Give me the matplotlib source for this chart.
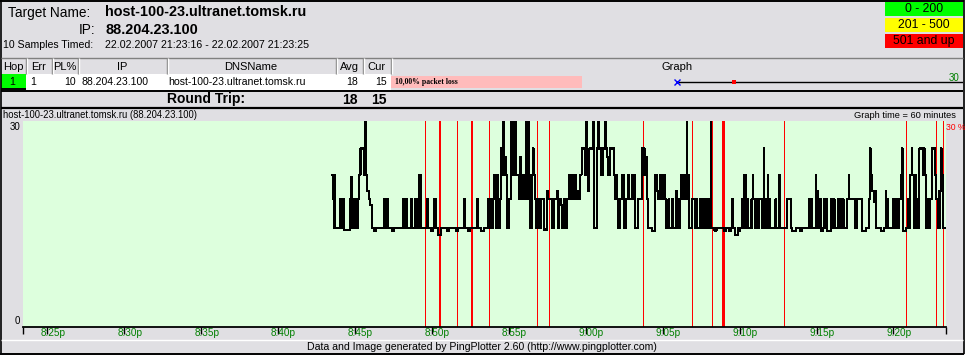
import numpy as np
import matplotlib
matplotlib.use("Agg")
import matplotlib.pyplot as plt
import matplotlib.dates as mdates
from matplotlib.patches import Rectangle
from matplotlib.transforms import ScaledTranslation

plt.rcParams["font.family"] = ["Liberation Sans", "DejaVu Sans"]

# ---- header / table data ----
target_name = "host-100-23.ultranet.tomsk.ru"
target_ip = "88.204.23.100"
samples_label = "10 Samples Timed:"
time_range = "22.02.2007 21:23:16 - 22.02.2007 21:23:25"

legend_labels = ["0 - 200", "201 - 500", "501 and up"]
legend_colors = ["#00ff00", "#ffff00", "#ff0000"]

columns = ["Hop", "Err", "PL%", "IP", "DNSName", "Avg", "Cur", "Graph"]
hop_row = ["1", "1", "10", "88.204.23.100", "host-100-23.ultranet.tomsk.ru", "18", "15"]
round_trip = ["18", "15"]
hop_pl = 10.0
hop_min = 15
hop_avg = 18
hop_max = 30
scale_max = 30

# ---- graph data ----
graph_start = np.datetime64("2007-02-22T20:23:25")
graph_end = np.datetime64("2007-02-22T21:23:25")
tick_times = ["20:25", "20:30", "20:35", "20:40", "20:45", "20:50",
              "20:55", "21:00", "21:05", "21:10", "21:15", "21:20"]

trace_start = np.datetime64("2007-02-22T20:43:30")
trace_end = np.datetime64("2007-02-22T21:23:25")
# (samples, latency ms), roughly 2.5 s per sample
trace_runs = [
    (1, 22.2), (2, 18.6), (1, 22.2), (8, 14.4), (1, 18.6), (2, 14.4), (1, 18.6), (2, 14.4), (1, 18.6), (9, 14.1),
    (2, 18.6), (1, 21.8), (3, 14.4), (1, 18.6), (2, 14.4), (1, 18.6), (2, 14.4), (2, 18.6), (2, 22.2), (5, 26.0),
    (2, 22.2), (1, 32), (2, 22.2), (3, 19.8), (2, 18.6), (3, 17.8), (3, 14.4), (3, 14.0), (12, 14.4), (1, 18.6),
    (2, 14.4), (1, 18.6), (2, 14.4), (1, 18.6), (6, 14.4), (3, 14.0), (14, 14.4), (1, 18.6), (2, 14.4), (3, 18.6),
    (6, 14.4), (1, 18.6), (5, 14.4), (3, 18.6), (3, 14.4), (1, 22.2), (2, 18.6), (1, 22.2), (9, 14.4), (1, 18.6),
    (5, 14.4), (3, 14.0), (2, 14.4), (3, 18.6), (2, 14.4), (5, 13.4), (9, 14.4), (3, 14.0), (12, 14.4), (3, 14.0),
    (9, 14.4), (1, 18.6), (5, 14.4), (3, 14.0), (11, 14.4), (1, 18.6), (5, 14.4), (5, 14.0), (6, 14.4),
    (1, 18.6), (3, 14.4), (1, 18.6), (2, 14.4), (2, 18.6), (3, 22.2), (2, 14.4), (1, 22.2), (3, 14.4), (2, 18.6),
    (1, 26.0), (2, 22.2), (1, 32), (2, 22.2), (1, 24.8), (2, 22.2), (3, 14.4), (3, 18.6), (1, 32), (2, 22.2),
    (1, 32), (2, 22.2), (1, 32), (5, 22.2), (2, 18.6), (1, 24.8), (2, 22.2), (3, 18.6), (1, 22.2), (3, 18.6),
    (1, 32), (2, 18.6), (1, 32), (2, 22.2), (2, 14.4), (2, 22.2), (1, 26.0), (2, 22.2), (2, 18.6), (2, 14.4),
    (3, 18.6), (2, 14.4), (5, 18.6), (5, 14.2), (1, 19.8), (6, 18.6), (3, 14.4), (5, 18.6), (1, 19.8), (2, 14.4),
    (3, 18.6), (2, 17.8), (3, 14.4), (3, 18.6), (2, 14.4), (2, 18.6), (1, 22.2), (2, 18.6), (1, 22.2), (3, 18.6),
    (1, 22.2), (2, 18.6), (1, 22.2), (3, 18.6), (1, 19.8), (3, 18.6), (2, 22.2), (5, 26.0), (2, 22.2), (1, 32),
    (2, 22.2), (2, 19.8), (6, 26.0), (1, 32), (5, 14.4), (2, 26.0), (1, 32), (3, 26.0), (3, 22.2), (3, 26.0),
    (1, 32), (2, 26.0), (2, 24.8), (3, 22.2), (6, 26.0), (2, 22.2), (2, 18.6), (1, 22.2), (2, 18.6), (2, 14.4),
    (3, 18.6), (1, 22.2), (2, 18.6), (1, 22.2), (3, 14.4), (3, 18.6), (1, 22.2), (5, 18.6), (1, 22.2), (2, 18.6),
    (1, 22.2), (5, 14.4), (6, 18.6),
    (1, 26.0), (2, 22.2), (1, 26.0), (3, 22.2), (1, 24.8), (2, 18.6), (5, 14.4), (5, 14.0), (3, 22.2), (2, 19.8),
    (3, 18.6), (1, 22.2), (3, 18.6), (3, 22.2), (3, 18.6), (3, 14.4), (1, 18.6), (5, 14.4), (1, 18.6), (5, 14.4),
    (1, 19.8), (2, 18.6), (3, 14.4), (2, 18.6), (3, 22.2), (2, 18.6), (1, 22.2), (2, 18.6), (1, 32), (2, 22.2),
    (5, 14.4), (5, 18.6), (2, 14.4), (1, 18.6), (5, 14.4), (1, 18.6), (2, 14.4), (1, 18.6), (2, 14.4), (1, 18.6),
    (2, 14.4), (1, 18.6), (3, 14.4), (1, 18.6), (2, 14.4), (1, 32), (5, 14.4), (3, 14.0), (6, 14.4),
    (6, 14.4), (2, 14.0), (6, 14.4), (2, 14.0), (2, 14.4), (1, 18.6), (3, 14.4), (5, 13.4), (1, 14.4), (2, 14.0), (3, 14.4),
    (1, 18.6), (2, 14.4), (1, 22.2), (2, 14.4), (1, 22.2), (3, 18.6), (5, 14.4), (2, 18.6), (1, 22.2), (2, 18.6),
    (3, 14.4), (1, 18.6), (2, 14.4), (5, 18.6), (3, 14.4), (1, 26.0), (2, 14.4), (1, 18.6), (2, 14.4), (1, 22.2),
    (2, 18.6), (9, 14.4), (1, 18.6), (5, 14.4), (1, 22.2), (11, 14.4),
    (6, 18.6), (2, 14.4), (6, 14.0), (6, 14.4), (3, 14.0), (11, 14.4), (1, 18.6), (2, 14.4), (1, 18.6), (6, 14.4),
    (1, 22.2), (2, 19.8), (2, 14.4), (3, 18.6), (3, 14.0), (2, 14.4), (1, 18.6), (3, 14.4), (1, 18.6), (5, 14.0),
    (1, 18.6), (2, 14.4), (3, 18.6), (5, 14.4), (1, 18.6), (3, 14.4), (1, 18.6), (3, 14.4), (1, 18.6), (5, 14.4),
    (3, 18.6), (1, 22.2), (8, 18.6), (3, 14.4), (9, 18.6), (5, 14.0), (5, 14.4), (2, 18.6), (1, 26.0), (2, 22.2),
    (3, 19.8), (2, 18.2), (1, 19.8), (8, 14.4), (5, 14.0), (2, 14.4), (1, 19.8), (2, 18.6), (8, 14.4), (3, 18.6),
    (3, 14.4), (1, 18.6), (3, 14.4), (2, 18.6), (2, 22.2), (1, 26.0), (6, 14.0), (3, 14.4), (1, 18.6), (2, 14.4),
    (2, 22.2), (1, 26.0), (2, 22.2), (3, 14.4), (1, 22.2), (3, 18.6), (2, 14.4), (5, 26.0), (2, 22.2), (1, 26.0),
    (2, 22.2), (3, 14.4), (1, 18.6), (2, 14.4), (3, 18.6), (5, 26.0), (2, 22.2), (3, 18.6), (2, 14.4), (2, 19.8),
    (1, 26.0), (2, 22.2), (5, 14.4),
]

# lost packets: time of first loss and number of consecutive lost samples
loss_times = ["20:49:33", "20:50:28", "20:51:37", "20:52:32", "20:53:42", "20:56:50",
              "20:57:36", "21:03:43", "21:06:54", "21:08:13", "21:08:52", "21:12:53",
              "21:20:46", "21:22:43", "21:23:13"]
loss_count = [1, 3, 1, 3, 1, 1, 1, 1, 1, 1, 4, 1, 1, 1, 1]

GREY = "#e0dfe3"
PLOT_BG = "#ddffdd"
TICK_GREEN = "#008000"

fig = plt.figure(figsize=(9.65, 3.55), dpi=100, facecolor=GREY)

# window chrome drawn in pixel space
ui = fig.add_axes([0, 0, 1, 1])
ui.set_xlim(0, 965)
ui.set_ylim(355, 0)
ui.axis("off")


def hline(y, x0, x1, color="black", lw=1.0):
    ui.plot([x0, x1], [y, y], color=color, lw=lw, solid_capstyle="butt")


def vline(x, y0, y1, color="black", lw=1.0):
    ui.plot([x, x], [y0, y1], color=color, lw=lw, solid_capstyle="butt")


# outer frame
hline(0.8, 0, 964, lw=1.4)
hline(353.5, 0, 964, lw=1.4)
vline(0.6, 0, 354, lw=1.2)
vline(963.5, 0, 354, lw=1.2)

# target info
ui.text(8, 12.5, "Target Name:", fontsize=9.8, va="center")
ui.text(105, 12.5, target_name, fontsize=10.4, fontweight="bold", va="center")
ui.text(95, 29.5, "IP:", fontsize=9.8, va="center", ha="right")
ui.text(105, 29.5, target_ip, fontsize=10.4, fontweight="bold", va="center")
ui.text(3, 45, samples_label, fontsize=7.6, va="center")
ui.text(105, 45, time_range, fontsize=7.7, va="center")

# colour legend
for i, (lab, col) in enumerate(zip(legend_labels, legend_colors)):
    y0 = 1.5 + i * 16
    ui.add_patch(Rectangle((885, y0), 78, 14.5, facecolor=col, edgecolor="none"))
    ui.text(924, y0 + 7.5, lab, fontsize=8.8, ha="center", va="center")

# table header
col_edges = [1, 25.5, 51.5, 77.5, 166.5, 335.5, 362.5, 390.5, 963]
hline(57.5, 1, 963, color="#808080")
for x in col_edges[1:-1]:
    vline(x, 58, 74, color="#808080")
    vline(x + 1, 58, 74, color="white")
for i, name in enumerate(columns):
    cx = (col_edges[i] + col_edges[i + 1]) / 2
    ui.text(cx, 66.5, name, fontsize=8, ha="center", va="center")

# hop row
ui.add_patch(Rectangle((26, 74), 365, 16, facecolor="white", edgecolor="none"))
ui.add_patch(Rectangle((1, 74), 24.5, 14.5, facecolor="#00ff00", edgecolor="none"))
hline(89.3, 1, 25.5, lw=1.4)
ui.text(12.5, 82, hop_row[0], fontsize=7.6, ha="center", va="center")
ui.text(30, 82, hop_row[1], fontsize=7.6, va="center")
ui.text(76, 82, hop_row[2], fontsize=7.6, ha="right", va="center")
ui.text(81, 82, hop_row[3], fontsize=7.6, va="center")
ui.text(168, 82, hop_row[4], fontsize=7.6, va="center")
ui.text(358, 82, hop_row[5], fontsize=7.6, ha="right", va="center")
ui.text(387, 82, hop_row[6], fontsize=7.6, ha="right", va="center")
hline(91, 1, 963, lw=1.4)

# round trip row
ui.text(206, 99.5, "Round Trip:", fontsize=10, fontweight="bold", ha="center", va="center")
ui.text(358, 99.5, round_trip[0], fontsize=10, fontweight="bold", ha="right", va="center")
ui.text(387, 99.5, round_trip[1], fontsize=10, fontweight="bold", ha="right", va="center")
hline(107.5, 1, 963, lw=1.6)

# graph title row
ui.text(3, 115, f"{target_name} ({target_ip})", fontsize=6.85, va="center")
ui.text(956, 115, "Graph time = 60 minutes", fontsize=6.7, ha="right", va="center")

# footer
hline(339.5, 1, 963, color="white")
ui.text(482, 347, "Data and Image generated by PingPlotter 2.60 (http://www.pingplotter.com)",
        fontsize=7.6, ha="center", va="center")

# mini graph in the hop row
mini = fig.add_axes([391 / 965, (355 - 90) / 355, 572 / 965, 16 / 355])
mini.set_facecolor(PLOT_BG)
mini.set_xlim(0, scale_max)
mini.set_ylim(0, 1)
mini.axis("off")
mini.barh(0.5, hop_pl, height=0.75, left=0, color="#ffbbbb", zorder=1)
mini.text(0.2, 0.5, f"{hop_pl:.2f}".replace(".", ",") + "% packet loss", family="Liberation Serif",
          fontweight="bold", fontsize=5.6, va="center", zorder=3)
mini.plot([hop_min, hop_max], [0.5, 0.5], color="black", lw=1.0, zorder=2)
mini.plot([hop_min], [0.5], marker="x", color="#0000ff", ms=4.5, mew=1.0, zorder=3)
mini.plot([hop_avg], [0.5], marker="s", color="red", ms=2.6, mew=0, zorder=3)
mini.text(29.8, 0.72, str(scale_max), color=TICK_GREEN, fontsize=7, ha="right", va="center")

# main latency graph
ax_w_px = 923
ax = fig.add_axes([23 / 965, (355 - 327) / 355, ax_w_px / 965, 206 / 355])
ax.set_facecolor(PLOT_BG)
ax.set_xlim(mdates.date2num(graph_start), mdates.date2num(graph_end))
ax.set_ylim(0, scale_max)

counts = np.array([r[0] for r in trace_runs])
values = np.array([r[1] for r in trace_runs])
lat = np.repeat(values, counts)
step_ms = (trace_end - trace_start).astype("timedelta64[ms]").astype(float) / len(lat)
t = trace_start + (np.arange(len(lat) + 1) * step_ms).astype("timedelta64[ms]")
ax.plot(t, np.append(lat, lat[-1]), drawstyle="steps-post", color="black", lw=0.8,
        antialiased=False, zorder=3)

# packet loss marks, at least one pixel wide
day = "2007-02-22T"
graph_ms = (graph_end - graph_start).astype("timedelta64[ms]").astype(float)
for lt, n in zip(loss_times, loss_count):
    t0 = np.datetime64(day + lt)
    mid = t0 + np.timedelta64(int(n * step_ms / 2), "ms")
    width_px = max(1.0, n * step_ms / graph_ms * ax_w_px)
    ax.axvline(mid, color="red", lw=width_px * 0.72, antialiased=False, zorder=2)

for s in ["top", "left", "right"]:
    ax.spines[s].set_visible(False)
ax.spines["bottom"].set_linewidth(1.3)
ax.set_yticks([])

ticks = [np.datetime64(day + tt) for tt in tick_times]
ax.set_xticks([mdates.date2num(graph_start)] + [mdates.date2num(tk) for tk in ticks]
              + [mdates.date2num(graph_end)])
ax.tick_params(axis="x", length=5, width=1, direction="out", labelbottom=False)

off = ScaledTranslation(-7 / 100, -6.5 / 100, fig.dpi_scale_trans)
for tk in ticks:
    hh = int(str(tk)[11:13])
    mm = str(tk)[14:16]
    ax.text(mdates.date2num(tk), 0, f"{hh - 12}:{mm}p", transform=ax.get_xaxis_transform() + off,
            color=TICK_GREEN, fontsize=7.2, ha="left", va="center")

ax.text(-0.003, 0.005, "0", transform=ax.transAxes, fontsize=7, ha="right", va="bottom")
ax.text(-0.003, 0.995, str(scale_max), transform=ax.transAxes, fontsize=7, ha="right", va="top")
ax.text(1.0002, 0.99, f"{scale_max} %", transform=ax.transAxes, color="red", fontsize=6.2,
        ha="left", va="top")

fig.savefig("out.png", dpi=100, facecolor=GREY)
